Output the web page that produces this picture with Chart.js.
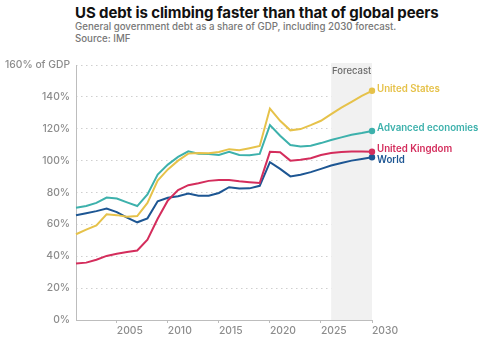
<!DOCTYPE html>
<html>
<head>
<meta charset="utf-8">
<script src="https://cdn.jsdelivr.net/npm/chart.js@4"></script>
<style>
  html, body { margin: 0; padding: 0; background: #fff; }
  #wrap { position: relative; width: 481px; height: 340px; overflow: hidden; font-family: Inter, "Open Sans", sans-serif; }
  #title { position: absolute; left: 75px; top: 3px; font-size: 15px; font-weight: 700; color: #111; white-space: nowrap; letter-spacing: -0.1px; }
  #sub { position: absolute; left: 75px; top: 21px; font-size: 9.7px; line-height: 12px; color: #777; white-space: nowrap; font-weight: 500; }
  canvas { position: absolute; left: 0; top: 0; }
</style>
</head>
<body>
<div id="wrap">
  <div id="title">US debt is climbing faster than that of global peers</div>
  <div id="sub">General government debt as a share of GDP, including 2030 forecast.<br>Source: IMF</div>
  <canvas id="c" width="481" height="340"></canvas>
</div>
<script>
const years = [2001,2002,2003,2004,2005,2006,2007,2008,2009,2010,2011,2012,2013,2014,2015,2016,2017,2018,2019,2020,2021,2022,2023,2024,2025,2026,2027,2028,2029,2030];
const unitedStates = [53.8,56.7,59.4,66.3,65.8,64.8,65.2,73.5,87.5,94.5,100,104.4,104.8,104.6,105.4,107.2,106.5,107.8,109.2,132.7,125,119,119.8,122.3,125,129.2,133.3,136.9,140.6,143.8];
const advancedEconomies = [70.4,71.5,73.5,76.8,76.2,73.8,71.5,78.8,91.3,97.5,102.3,105.8,104.3,104.2,103.6,105.6,103.5,103.4,104.2,122.3,115.6,109.8,108.8,109.4,111,112.9,114.6,116.2,117.3,118.6];
const unitedKingdom = [35.4,36,37.8,40.2,41.6,42.7,43.6,50.4,63.5,75,81.5,84.6,85.8,87.3,87.9,87.9,87.1,86.5,86,105.5,105.2,100,100.5,101.5,103.5,104.8,105.4,105.8,105.8,105.6];
const world = [65.7,67,68.3,69.9,67.7,64.2,61.3,63.8,74.5,76.7,77.7,79.4,77.9,78,79.7,83.3,82.5,82.6,84.2,99,94.8,90.1,91.2,92.8,94.8,96.9,98.5,100,101,102.1];
const seriesNames = ['United States','Advanced economies','United Kingdom','World'];
const xTicks = [2005,2010,2015,2020,2025,2030];
const yTicks = [0,20,40,60,80,100,120,140,160];
const yTickLabels = ['0%','20%','40%','60%','80%','100%','120%','140%','160% of GDP'];
const forecastStart = 2026;
const forecastEnd = 2030;
const forecastLabel = 'Forecast';

const colors = ['#e6c24a','#3db1ac','#d42d5c','#1d5693'];
const labelDy = [-2,-3,-3,3];
const FONT = 'Inter, "Open Sans", sans-serif';

function pts(arr) { return years.map((y,i) => ({x: y, y: arr[i]})); }
const seriesData = [unitedStates, advancedEconomies, unitedKingdom, world];

const datasets = seriesData.map((arr, k) => ({
  label: seriesNames[k],
  data: pts(arr),
  borderColor: colors[k],
  backgroundColor: colors[k],
  borderWidth: 2,
  tension: 0,
  pointRadius: arr.map((v,i) => i === arr.length - 1 ? 3.2 : 0),
  pointHoverRadius: 0,
  pointBorderWidth: 0,
  clip: false
}));

const forecastPlugin = {
  id: 'forecast',
  beforeDatasetsDraw(chart) {
    const {ctx, chartArea, scales} = chart;
    const x0 = scales.x.getPixelForValue(forecastStart);
    const x1 = scales.x.getPixelForValue(forecastEnd);
    ctx.save();
    ctx.fillStyle = '#f1f1f1';
    ctx.fillRect(x0, chartArea.top - 2, x1 - x0, chartArea.bottom - chartArea.top + 2);
    ctx.restore();
  },
  afterDatasetsDraw(chart) {
    const {ctx, chartArea, scales} = chart;
    const x0 = scales.x.getPixelForValue(forecastStart);
    const x1 = scales.x.getPixelForValue(forecastEnd);
    ctx.save();
    ctx.fillStyle = '#6b6b6b';
    ctx.font = '500 9.5px ' + FONT;
    ctx.textAlign = 'center';
    ctx.textBaseline = 'middle';
    ctx.fillText(forecastLabel, (x0 + x1) / 2, chartArea.top + 6);
    ctx.font = '600 9.7px ' + FONT;
    ctx.textAlign = 'left';
    chart.data.datasets.forEach((ds, k) => {
      const meta = chart.getDatasetMeta(k);
      const p = meta.data[meta.data.length - 1];
      ctx.fillStyle = colors[k];
      ctx.fillText(ds.label, p.x + 5, p.y + labelDy[k]);
    });
    ctx.restore();
  }
};

new Chart(document.getElementById('c'), {
  type: 'line',
  data: { datasets },
  plugins: [forecastPlugin],
  options: {
    responsive: false,
    animation: false,
    events: [],
    layout: { padding: { top: 65, right: 109, bottom: 0, left: 0 } },
    plugins: { legend: { display: false }, tooltip: { enabled: false } },
    scales: {
      x: {
        type: 'linear',
        min: years[0],
        max: forecastEnd,
        afterBuildTicks: s => { s.ticks = xTicks.map(v => ({value: v})); },
        afterFit: s => { s.height = 20; },
        ticks: { align: 'start', padding: 2, color: '#8c8c8c', font: { family: FONT, size: 10.3, weight: 500 }, callback: v => String(v), maxRotation: 0, autoSkip: false },
        grid: { drawOnChartArea: false, drawTicks: true, tickLength: 3, color: '#bdbdbd' },
        border: { display: true, color: '#bdbdbd', width: 1 }
      },
      y: {
        min: 0,
        max: 160,
        afterBuildTicks: s => { s.ticks = yTicks.map(v => ({value: v})); },
        afterFit: s => { s.width = 76; },
        ticks: { padding: 6, color: '#8c8c8c', font: { family: FONT, size: 10.3, weight: 500 }, callback: (v) => yTickLabels[yTicks.indexOf(v)] },
        grid: { drawTicks: false, color: '#cfcfcf', lineWidth: 1 },
        border: { display: true, color: '#bdbdbd', width: 1, dash: [1.5,3.5], dashOffset: -4 }
      }
    }
  }
});
</script>
</body>
</html>
